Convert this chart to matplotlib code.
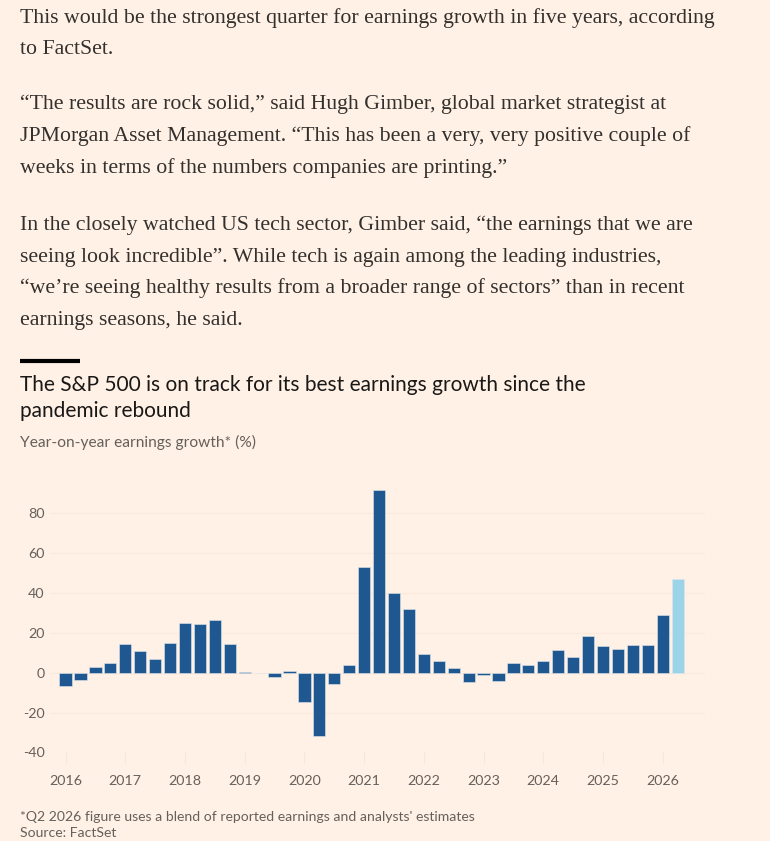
import matplotlib
matplotlib.use("Agg")
import matplotlib.pyplot as plt
import numpy as np

# ---------------- data ----------------
quarters = [f"{y} Q{q}" for y in range(2016, 2027) for q in range(1, 5)][:42]
growth = [
    -6.9, -3.5, 2.8, 4.8,        # 2016
    14.2, 10.8, 6.7, 14.7,       # 2017
    24.8, 24.7, 26.3, 14.2,      # 2018
    0.3, 0.0, -2.2, 1.0,         # 2019
    -14.8, -31.7, -5.5, 4.0,     # 2020
    53.2, 91.7, 40.2, 32.2,      # 2021
    9.3, 5.7, 2.3, -4.8,         # 2022
    -1.3, -4.0, 4.8, 4.0,        # 2023
    5.7, 11.2, 7.7, 18.3,        # 2024
    13.3, 12.0, 13.7, 14.0,      # 2025
    28.8, 47.3,                  # 2026
]
estimate_flags = [False] * 41 + [True]
year_labels = ["2016", "2017", "2018", "2019", "2020", "2021", "2022", "2023", "2024", "2025", "2026"]
y_ticks = [-40, -20, 0, 20, 40, 60, 80]
y_tick_labels = ["-40", "-20", "0", "20", "40", "60", "80"]

body_lines = [
    "This would be the strongest quarter for earnings growth in five years, according",
    "to FactSet.",
    "\u201cThe results are rock solid,\u201d said Hugh Gimber, global market strategist at",
    "JPMorgan Asset Management. \u201cThis has been a very, very positive couple of",
    "weeks in terms of the numbers companies are printing.\u201d",
    "In the closely watched US tech sector, Gimber said, \u201cthe earnings that we are",
    "seeing look incredible\u201d. While tech is again among the leading industries,",
    "\u201cwe\u2019re seeing healthy results from a broader range of sectors\u201d than in recent",
    "earnings seasons, he said.",
]
title_lines = ["The S&P 500 is on track for its best earnings growth since the",
               "pandemic rebound"]
subtitle = "Year-on-year earnings growth* (%)"
footnote = "*Q2 2026 figure uses a blend of reported earnings and analysts' estimates"
source = "Source: FactSet"

# ---------------- style ----------------
BG = "#fff1e5"
DARK = "#1f5790"
LIGHT = "#9bd3e8"
GREY = "#66605c"
W, H = 770, 841

fig = plt.figure(figsize=(W / 100, H / 100), dpi=100, facecolor=BG)
renderer = fig.canvas.get_renderer()

def fy(ypx):
    return 1 - ypx / H

def fitted_size(text, family, target_px, base=14):
    t = fig.text(0, 0, text, fontsize=base, family=family)
    w = t.get_window_extent(renderer=renderer).width
    t.remove()
    return base * target_px / w

SERIF = ["Liberation Serif", "DejaVu Serif"]
SANS = ["Lato", "DejaVu Sans"]

body_size = fitted_size(body_lines[0], SERIF, 698)
body_baselines = [22.7, 54.3, 109.3, 141, 172.7, 230, 261.7, 293.3, 325]
for line, yb in zip(body_lines, body_baselines):
    fig.text(20 / W, fy(yb), line, fontsize=body_size, family=SERIF,
             color="#33302e", va="baseline", ha="left")

# black rule above title
fig.add_artist(plt.Line2D([20 / W, 80 / W], [fy(361), fy(361)], color="black",
                          linewidth=3, solid_capstyle="butt"))

title_size = fitted_size(title_lines[0], SANS, 568)
for line, yb in zip(title_lines, [390.7, 416.7]):
    fig.text(20 / W, fy(yb), line, fontsize=title_size, family=SANS,
             color="#1a1817", va="baseline", ha="left")

sub_size = fitted_size(subtitle, SANS, 237)
fig.text(20 / W, fy(447.3), subtitle, fontsize=sub_size, family=SANS,
         color=GREY, va="baseline", ha="left")

foot_size = fitted_size(footnote, SANS, 454)
fig.text(20 / W, fy(821), footnote, fontsize=foot_size, family=SANS,
         color=GREY, va="baseline", ha="left")
fig.text(20 / W, fy(837), source, fontsize=foot_size, family=SANS,
         color=GREY, va="baseline", ha="left")

# ---------------- chart ----------------
ax_left, ax_right = 50, 705
ax_top, ax_bottom = 481.5, 752.4
ax = fig.add_axes([ax_left / W, 1 - ax_bottom / H, (ax_right - ax_left) / W,
                   (ax_bottom - ax_top) / H])
ax.set_facecolor(BG)

x = np.arange(len(growth))
colors = [LIGHT if e else DARK for e in estimate_flags]
ax.bar(x, growth, width=0.82, color=colors, edgecolor="#dfe6ee", linewidth=0.4,
       zorder=3)

ax.set_xlim(-1.04, 42.83)
ax.set_ylim(-40, 96)
ax.set_yticks(y_ticks)
ax.set_yticklabels(y_tick_labels)
ax.set_xticks(np.arange(0, len(growth), 4))
ax.set_xticklabels(year_labels)

for s in ax.spines.values():
    s.set_visible(False)
ax.grid(axis="y", color="#fbe9dc", linewidth=0.8, zorder=0)
ax.grid(axis="x", visible=False)
ax.tick_params(axis="y", length=0, pad=4, labelsize=foot_size * 1.02,
               labelcolor=GREY)
ax.tick_params(axis="x", length=8, width=0.8, color="#f8e6d8", pad=8,
               labelsize=foot_size * 1.02, labelcolor=GREY)
for lab in ax.get_xticklabels() + ax.get_yticklabels():
    lab.set_family(SANS)

fig.savefig("out.png", dpi=100, facecolor=BG)
